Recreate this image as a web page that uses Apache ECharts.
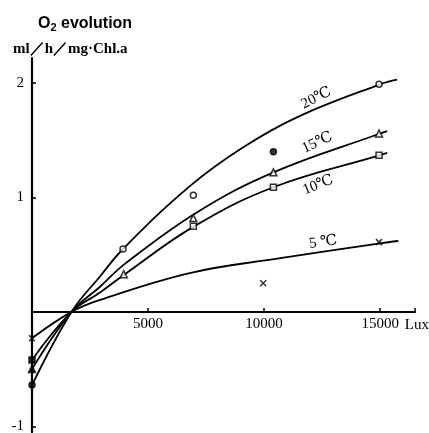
<!DOCTYPE html>
<html>
<head>
<meta charset="utf-8">
<script src="https://cdn.jsdelivr.net/npm/echarts@6/dist/echarts.min.js"></script>
<style>
  html, body { margin: 0; padding: 0; background: #fff; }
  #chart { width: 429px; height: 433px; }
</style>
</head>
<body>
<div id="chart"></div>
<script>
// x ticks (Lux) and y ticks
const xTicks = [5000, 10000, 15000];
const yTicks = [-1, 1, 2];

// fitted curves: [lux, O2 evolution]
const curve20 = [[0, -0.64], [1700, 0], [2930, 0.31], [3920, 0.55], [6800, 1.10], [9100, 1.44], [11500, 1.71], [15000, 1.99], [15730, 2.03]];
const curve15 = [[0, -0.50], [1700, 0], [2930, 0.22], [4000, 0.42], [7100, 0.87], [10400, 1.22], [15000, 1.56], [15300, 1.58]];
const curve10 = [[0, -0.42], [1700, 0], [2930, 0.17], [4000, 0.33], [7000, 0.75], [10400, 1.09], [15000, 1.37], [15300, 1.39]];
const curve5 = [[0, -0.23], [1700, 0], [2930, 0.105], [6800, 0.34], [10700, 0.47], [15000, 0.60], [15780, 0.62]];

// measured points
const open20 = [[3920, 0.55], [6950, 1.02], [14950, 1.99]];
const filled20 = [[0, -0.64], [10400, 1.40]];
const open15 = [[3950, 0.33], [6950, 0.82], [10400, 1.22], [14950, 1.56]];
const filled15 = [[0, -0.50]];
const open10 = [[6950, 0.75], [10400, 1.09], [14950, 1.37]];
const filled10 = [[0, -0.42]];
const cross5 = [[0, -0.23], [9960, 0.25], [14950, 0.61]];

const serif = '"Liberation Serif", "DejaVu Serif", serif';
const crossPath = 'path://M0,0L10,10M10,0L0,10';

const chart = echarts.init(document.getElementById('chart'));

function curve(data) {
  return {
    type: 'line', data, smooth: 0.4, showSymbol: false, silent: true,
    lineStyle: { color: '#000', width: 1.8 }, z: 2
  };
}
function marks(data, symbol, size, filled) {
  return {
    type: 'scatter', data, symbol, symbolSize: size, z: 3,
    itemStyle: { color: filled ? '#000' : '#fff', borderColor: '#000', borderWidth: 1.5 }
  };
}

chart.setOption({
  animation: false,
  backgroundColor: '#fff',
  title: [
    {
      text: '{a|O}{b|2}{a| evolution}', left: 33, top: 9,
      textStyle: {
        rich: {
          a: { fontFamily: '"Liberation Sans", Arial, sans-serif', fontWeight: 'bold', fontSize: 16, color: '#000' },
          b: { fontFamily: '"Liberation Sans", Arial, sans-serif', fontWeight: 'bold', fontSize: 11, color: '#000', padding: [8, 0, 0, 0] }
        }
      }
    },
    {
      text: 'ml／h／mg·Chl.a', left: 8, top: 37,
      textStyle: { fontFamily: serif, fontWeight: 'bold', fontSize: 15, color: '#000' }
    }
  ],
  grid: { left: 32, right: 14, top: 58, bottom: 1, outerBoundsMode: 'none', containLabel: false },
  xAxis: {
    type: 'value', min: 0, max: 16500, interval: 5000,
    axisLine: { onZero: false, lineStyle: { color: '#000', width: 2.2 } },
    axisTick: { inside: true, length: 4, lineStyle: { color: '#000', width: 1.5 } },
    axisLabel: {
      margin: 5, color: '#000', fontFamily: serif, fontSize: 15,
      formatter: v => xTicks.includes(v) ? String(v) : ''
    },
    splitLine: { show: false },
    name: 'Lux', nameLocation: 'end', nameGap: -14,
    nameTextStyle: { fontFamily: serif, fontSize: 15, color: '#000', verticalAlign: 'top', padding: [6, 0, 0, 0] }
  },
  yAxis: {
    type: 'value', min: -1.05, max: 2.22,
    axisLine: { show: true, onZero: false, lineStyle: { color: '#000', width: 2.2 } },
    axisTick: { show: true, inside: true, length: 4, customValues: yTicks, lineStyle: { color: '#000', width: 1.5 } },
    axisLabel: { margin: 8, color: '#000', fontFamily: serif, fontSize: 15, customValues: yTicks },
    splitLine: { show: false }
  },
  series: [
    curve(curve20), curve(curve15), curve(curve10), curve(curve5),
    marks(open20, 'circle', 6, false), marks(filled20, 'circle', 6, true),
    marks(open15, 'triangle', 7, false), marks(filled15, 'triangle', 7, true),
    marks(open10, 'rect', 6, false), marks(filled10, 'rect', 6, true),
    marks(cross5, crossPath, 6, true)
  ]
});

// move the x axis (line, ticks, labels) up to y = 0 using the y scale
const bottomPx = chart.convertToPixel({ yAxisIndex: 0 }, -1.05);
const zeroPx = chart.convertToPixel({ yAxisIndex: 0 }, 0);

// temperature labels placed along the curves
const tempLabels = [
  { text: '20℃', at: [12250, 1.87], rot: 27 },
  { text: '15℃', at: [12290, 1.48], rot: 25 },
  { text: '10℃', at: [12330, 1.11], rot: 22 },
  { text: '5 ℃', at: [12540, 0.61], rot: 8 }
];
chart.setOption({
  xAxis: { offset: zeroPx - bottomPx },
  graphic: tempLabels.map(l => {
    const p = chart.convertToPixel({ gridIndex: 0 }, l.at);
    return {
      type: 'text', x: p[0], y: p[1], rotation: l.rot * Math.PI / 180,
      style: { text: l.text, fontFamily: serif, fontSize: 15, fill: '#000', align: 'center', verticalAlign: 'middle' }
    };
  })
});
</script>
</body>
</html>
